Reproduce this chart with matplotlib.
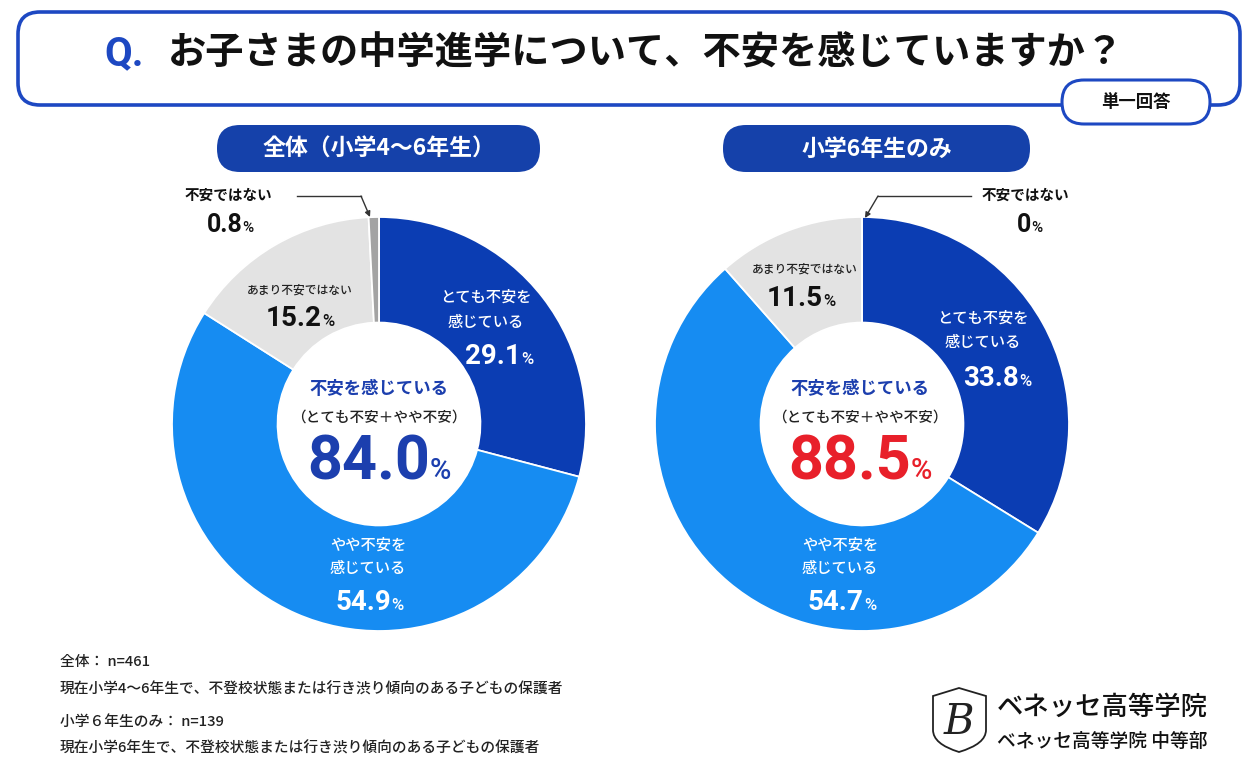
import numpy as np
import matplotlib
matplotlib.use('Agg')
import matplotlib.pyplot as plt
from matplotlib.patches import FancyBboxPatch, PathPatch
from matplotlib.path import Path
from matplotlib.offsetbox import TextArea, HPacker, AnnotationBbox

plt.rcParams['font.family'] = ['Noto Sans CJK JP', 'DejaVu Sans']
NUMFONT = ['Roboto', 'DejaVu Sans']

# data
categories = ['とても不安を感じている', 'やや不安を感じている', 'あまり不安ではない', '不安ではない']
all_values = [29.1, 54.9, 15.2, 0.8]
g6_values = [33.8, 54.7, 11.5, 0.0]
all_total = 84.0
g6_total = 88.5
groups = ['全体（小学4～6年生）', '小学6年生のみ']

W, H = 1259, 778
DARK = '#0b3db3'
BRIGHT = '#168cf2'
LGREY = '#e3e3e3'
GREY = '#a3a3a3'
BORDER = '#1d48c2'
PILL = '#1541aa'
colors = [DARK, BRIGHT, LGREY, GREY]


def Y(y):
    return H - y


fig = plt.figure(figsize=(W / 100, H / 100), dpi=100)
ax = fig.add_axes([0, 0, 1, 1])

R = 207
for cx, vals in [(379, all_values), (862, g6_values)]:
    ax.pie(vals, colors=colors, startangle=90, counterclock=False,
           center=(cx, Y(424)), radius=R,
           wedgeprops=dict(width=R * 0.51, edgecolor='white', linewidth=1.3))

ax.set_xlim(0, W)
ax.set_ylim(0, H)
ax.set_aspect('equal')
ax.axis('off')


def pct(x, y, num, big, small, color, weight='bold'):
    a = TextArea(num, textprops=dict(fontsize=big, color=color, weight=weight,
                                     family=NUMFONT))
    b = TextArea('%', textprops=dict(fontsize=small, color=color, weight='medium',
                                     family=NUMFONT))
    box = HPacker(children=[a, b], align='baseline', pad=0, sep=0)
    ab = AnnotationBbox(box, (x, Y(y)), frameon=False, box_alignment=(0.5, 0.5))
    ax.add_artist(ab)


def txt(x, y, s, size, color='#111111', weight='bold', ha='center'):
    ax.text(x, Y(y), s, fontsize=size, color=color, weight=weight,
            ha=ha, va='center')


# title box
ax.add_patch(FancyBboxPatch((18, Y(105)), 1222, 93,
                            boxstyle='round,pad=0,rounding_size=22',
                            fc='white', ec=BORDER, lw=2.6, zorder=3))
ax.text(104, Y(54), 'Q.', fontsize=29, color=BORDER, weight='bold',
        family=NUMFONT, ha='left', va='center', zorder=4)
ax.text(168, Y(53), 'お子さまの中学進学について、不安を感じていますか？',
        fontsize=27.5, color='#111111', weight='bold', ha='left', va='center', zorder=4)
ax.add_patch(FancyBboxPatch((1062, Y(124)), 148, 44,
                            boxstyle='round,pad=0,rounding_size=22',
                            fc='white', ec=BORDER, lw=2.2, zorder=5))
ax.text(1136, Y(102), '単一回答', fontsize=12.5, color='#111111', weight='bold',
        ha='center', va='center', zorder=6)

# section pills
for (x0, x1), label in zip([(217, 540), (723, 1030)], groups):
    ax.add_patch(FancyBboxPatch((x0, Y(172)), x1 - x0, 47,
                                boxstyle='round,pad=0,rounding_size=23',
                                fc=PILL, ec='none', zorder=3))
    ax.text((x0 + x1) / 2, Y(149), label, fontsize=16.5, color='white',
            weight='bold', ha='center', va='center', zorder=4)

# left donut labels
txt(486, 297, 'とても不安を', 11, 'white', 'medium')
txt(486, 322, '感じている', 11, 'white', 'medium')
pct(499, 356, '29.1', 20, 12, 'white')
txt(368, 545, 'やや不安を', 11, 'white', 'medium')
txt(368, 569, '感じている', 11, 'white', 'medium')
pct(370, 603, '54.9', 20, 12, 'white')
txt(300, 290, 'あまり不安ではない', 8.5, '#222222', 'medium')
pct(300, 318, '15.2', 20, 12, '#111111')
txt(228, 195, '不安ではない', 10.5, '#111111', 'bold')
pct(230, 225, '0.8', 18, 11, '#111111')
ax.plot([297, 361], [Y(196), Y(196)], color='#333333', lw=1)
ax.annotate('', xy=(370, Y(217)), xytext=(361, Y(196)),
            arrowprops=dict(arrowstyle='-|>', color='#333333', lw=1,
                            mutation_scale=8, shrinkA=0, shrinkB=0))

# right donut labels
txt(983, 318, 'とても不安を', 11, 'white', 'medium')
txt(983, 342, '感じている', 11, 'white', 'medium')
pct(997, 378, '33.8', 20, 12, 'white')
txt(840, 545, 'やや不安を', 11, 'white', 'medium')
txt(840, 569, '感じている', 11, 'white', 'medium')
pct(842, 602, '54.7', 20, 12, 'white')
txt(805, 269, 'あまり不安ではない', 8.5, '#222222', 'medium')
pct(801, 298, '11.5', 20, 12, '#111111')
txt(1025, 195, '不安ではない', 10.5, '#111111', 'bold')
pct(1030, 225, '0', 18, 11, '#111111')
ax.plot([878, 971], [Y(196), Y(196)], color='#333333', lw=1)
ax.annotate('', xy=(865, Y(218)), xytext=(878, Y(196)),
            arrowprops=dict(arrowstyle='-|>', color='#333333', lw=1,
                            mutation_scale=8, shrinkA=0, shrinkB=0))

# centre texts
for cx, total, col in [(379, all_total, '#1c3fae'), (860, g6_total, '#e8202a')]:
    txt(cx, 389, '不安を感じている', 12.5, '#1c3fae', 'bold')
    txt(cx, 418, '（とても不安＋やや不安）', 10.5, '#222222', 'medium')
    pct(cx, 462, f'{total:.1f}', 44, 21, col)

# footnotes
notes = [(662, '全体： n=461'),
         (689, '現在小学4～6年生で、不登校状態または行き渋り傾向のある子どもの保護者'),
         (722, '小学６年生のみ： n=139'),
         (748, '現在小学6年生で、不登校状態または行き渋り傾向のある子どもの保護者')]
for y, s in notes:
    txt(60, y, s, 10.6, '#222222', 'medium', ha='left')

# logo
sx, sy = 933, 688
shield = [(sx, Y(sy + 8)), (sx + 26, Y(sy)), (sx + 53, Y(sy + 8)),
          (sx + 53, Y(sy + 42)), (sx + 53, Y(sy + 56)),
          (sx + 26, Y(sy + 64)), (sx + 26, Y(sy + 64)),
          (sx + 26, Y(sy + 64)), (sx, Y(sy + 56)),
          (sx, Y(sy + 42)), (sx, Y(sy + 8))]
codes = [Path.MOVETO, Path.LINETO, Path.LINETO, Path.LINETO,
         Path.CURVE3, Path.CURVE3, Path.LINETO,
         Path.LINETO, Path.CURVE3, Path.CURVE3, Path.CLOSEPOLY]
ax.add_patch(PathPatch(Path(shield, codes), fc='white', ec='#222222', lw=1.3))
ax.text(sx + 26, Y(sy + 34), 'B', fontsize=30, family='DejaVu Serif',
        style='italic', color='#222222', ha='center', va='center')
ax.text(997, Y(707), 'ベネッセ高等学院', fontsize=19, color='#111111',
        weight='medium', ha='left', va='center')
ax.text(997, Y(741), 'ベネッセ高等学院 中等部', fontsize=13.5, color='#111111',
        weight='medium', ha='left', va='center')

fig.savefig('out.png', dpi=100, facecolor='white')
